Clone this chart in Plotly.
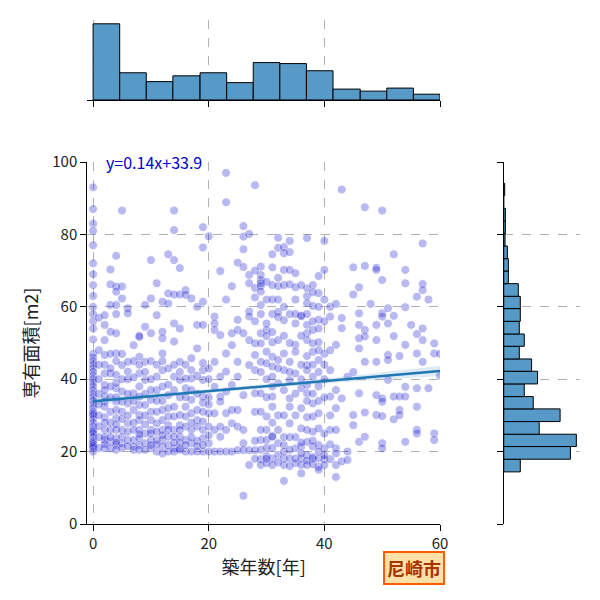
# %% imports
# --------------------
import numpy as np
import plotly.graph_objects as go

# %% data
# --------------------
# building age [years] for every scatter point, one line per age column
age = [
    0, 0, 0, 0, 0, 0, 0, 0, 0, 0, 0, 0, 0, 0, 0, 0, 0, 0, 0, 0, 0, 0, 0,
    0, 0, 0, 0, 0, 0, 0, 0, 0, 0, 0, 0, 0, 0, 0, 0, 0, 0, 0, 0, 0, 0, 0,
    1, 1, 1, 1,
    2, 2, 2, 2, 2, 2, 2, 2, 2, 2, 2, 2, 2,
    3, 3, 3, 3, 3, 3, 3, 3, 3,
    4, 4, 4, 4, 4, 4, 4, 4, 4, 4, 4, 4, 4, 4, 4,
    5, 5, 5, 5, 5, 5, 5, 5, 5,
    6, 6, 6, 6, 6, 6, 6,
    7, 7, 7, 7, 7,
    8, 8, 8, 8, 8, 8, 8, 8, 8, 8, 8,
    9, 9, 9, 9, 9, 9, 9,
    10, 10, 10, 10, 10, 10, 10, 10, 10,
    11, 11, 11, 11, 11, 11, 11, 11,
    12, 12, 12, 12, 12, 12, 12, 12, 12, 12, 12,
    13, 13, 13, 13, 13, 13, 13, 13, 13,
    14, 14, 14, 14, 14, 14, 14, 14, 14, 14, 14, 14,
    15, 15, 15, 15, 15, 15, 15, 15, 15, 15,
    16, 16, 16, 16, 16, 16, 16, 16, 16,
    17, 17, 17, 17, 17, 17, 17, 17,
    18, 18, 18, 18, 18, 18, 18,
    19, 19, 19, 19, 19, 19, 19, 19, 19, 19, 19, 19,
    20, 20, 20, 20, 20, 20, 20,
    21, 21, 21, 21, 21, 21, 21, 21,
    22, 22, 22, 22, 22, 22, 22, 22,
    23, 23, 23, 23, 23, 23, 23, 23, 23,
    24, 24, 24, 24, 24, 24, 24,
    25, 25, 25, 25, 25, 25, 25, 25,
    26, 26, 26, 26, 26, 26, 26, 26, 26, 26,
    27, 27, 27, 27, 27, 27, 27, 27, 27,
    28, 28, 28, 28, 28, 28, 28, 28,
    29, 29, 29, 29, 29, 29, 29, 29, 29, 29, 29, 29, 29, 29,
    30, 30, 30, 30, 30, 30, 30, 30, 30, 30, 30,
    31, 31, 31, 31, 31, 31, 31, 31, 31, 31, 31, 31, 31, 31,
    32, 32, 32, 32, 32, 32, 32, 32, 32, 32,
    33, 33, 33, 33, 33, 33, 33, 33, 33, 33, 33,
    34, 34, 34, 34, 34, 34, 34, 34, 34, 34,
    35, 35, 35, 35, 35, 35, 35, 35, 35,
    36, 36, 36, 36, 36, 36, 36, 36, 36,
    37, 37, 37, 37, 37, 37, 37, 37, 37, 37, 37, 37, 37, 37, 37, 37,
    38, 38, 38, 38, 38, 38, 38, 38, 38, 38, 38, 38,
    39, 39, 39, 39, 39, 39, 39, 39, 39, 39, 39, 39,
    40, 40, 40, 40, 40, 40, 40,
    41, 41, 41, 41, 41, 41,
    42, 42, 42, 42, 42, 42, 42, 42, 42,
    43, 43, 43, 43, 43,
    44, 44, 44,
    45, 45, 45, 45, 45,
    46, 46, 46, 46, 46, 46, 46,
    47, 47, 47, 47, 47, 47, 47,
    48,
    49, 49, 49, 49, 49, 49, 49,
    50, 50, 50, 50, 50, 50, 50, 50, 50,
    51, 51, 51, 51, 51,
    52, 52, 52, 52, 52,
    53, 53, 53, 53,
    54, 54, 54, 54, 54, 54, 54,
    55,
    56, 56, 56, 56, 56, 56, 56,
    57, 57, 57, 57, 57, 57,
    58, 58,
    59, 59, 59, 59,
    60, 60,
]

# floor area [m2], same order as age
area = [
    93, 87, 83, 81, 77, 72, 69, 66, 63, 60, 58, 56, 54, 51, 47, 46, 45, 44, 43, 42, 41, 40, 39,
    38, 37, 36, 35, 34, 33, 32, 31, 30.5, 30, 29, 28, 27, 26, 25.5, 25, 24, 23, 22.5, 22, 21.5, 21, 20,
    57, 48, 36, 27,
    57.7, 55, 50.8, 46.7, 41.6, 38.4, 35.2, 33.8, 32.4, 29.5, 26, 23.2, 20.9,
    70.3, 66.2, 60.5, 53.1, 41.6, 31, 26, 22.7, 20.9,
    74.1, 65.6, 64.2, 60.5, 58, 52.7, 47.1, 41.2, 37.5, 33.8, 31.5, 29.2, 26, 23.7, 21.8,
    86.6, 65.6, 62.3, 43.9, 36.6, 33.8, 26, 24.1, 22.3,
    59.6, 58.2, 44.8, 42.1, 33.3, 27.8, 23.2,
    49.4, 36.1, 31.5, 23.2, 21.4,
    52, 51.7, 46.2, 41.6, 35.2, 32.9, 30.1, 28.7, 26, 23.7, 21.8,
    60.5, 54.5, 44.8, 39.8, 32.9, 25, 22.3,
    72.9, 62.3, 52.7, 34.3, 31, 28.7, 26, 23.2, 20.9,
    66.5, 57.7, 40.7, 37, 31, 27.8, 23.2, 20,
    61.4, 53.1, 51.3, 47.1, 42.5, 31.5, 28.7, 26, 23.2, 21.4, 19.5,
    74.5, 63.7, 60.9, 35.6, 32, 29.7, 27.3, 24.1, 21.8,
    86.6, 81.2, 72.9, 63.4, 55.4, 50.4, 40.7, 32.4, 29.7, 26, 24.1, 20.9,
    70.7, 63.4, 54, 44.8, 39.8, 30.1, 27.3, 24.1, 20.9, 20.5,
    64.6, 63.3, 40.2, 37.5, 32.4, 29.7, 26.9, 23.2, 20,
    62.3, 45.8, 40.2, 34.3, 30.6, 26, 22.3, 20,
    60, 55, 48.5, 31.5, 28.7, 26.9, 20,
    82, 76.4, 61.4, 55, 42.5, 39.8, 35.2, 31, 28.3, 26, 23.7, 20,
    79.5, 40, 35, 30.6, 26.9, 22.3, 20,
    57.3, 55.4, 53.6, 44.8, 37.9, 30.6, 26, 20,
    69.9, 52.2, 40.7, 35.2, 33.8, 26.9, 24.1, 20,
    97, 88.9, 62, 47.1, 42.1, 36.6, 30.6, 26, 20,
    65.7, 52.7, 49.4, 38.4, 31.5, 27.8, 20,
    72.2, 56.4, 53.6, 44.8, 40.7, 31.5, 26.9, 20.4,
    82.3, 79.4, 75.9, 71, 52.7, 35.6, 26, 22.3, 20.4, 7.8,
    80.1, 68.8, 66.5, 58.7, 57.3, 50.8, 43.9, 20.4, 16.3,
    93.6, 65.2, 62.6, 49.9, 46.7, 42.5, 36.1, 20.4,
    71.1, 68.8, 67.4, 66.5, 65.7, 64.2, 60.5, 52.7, 49.9, 44.8, 36.1, 23.2, 17.9, 16.3,
    66.9, 55.4, 53.6, 51.9, 47.6, 44.4, 29.7, 26, 23.2, 18.8, 16.8,
    74.5, 70.9, 66, 58, 50.2, 46.2, 43.5, 40.7, 35.2, 32.4, 24.3, 24.1, 18.1, 16.3,
    79.1, 76.3, 65.7, 58.6, 57.2, 50.8, 45.3, 38.9, 22.3, 19.1,
    76.5, 74.8, 70.2, 66, 56.3, 47.1, 42.5, 21.8, 18.1, 16.3, 11.9,
    78.2, 75.1, 70.2, 66.2, 44.8, 39.8, 34.7, 32.4, 27.8, 18.1,
    69.3, 65.4, 55.4, 49.5, 47.6, 41.6, 20.9, 18.1, 16.8,
    57.6, 57.4, 37.5, 32, 26.4, 21.4, 18.1, 16.3, 14,
    79, 65.1, 62.9, 61, 55, 52.7, 50.8, 46.4, 43.9, 42.5, 38.4, 36.1, 29.5, 22.7, 19.1, 16.3,
    66, 60.2, 53.6, 49.9, 47.6, 40.7, 33.3, 29.7, 25.5, 21.4, 18.5, 18.1,
    68.5, 63.8, 56.4, 50.2, 45.3, 38, 30.6, 26.4, 21.8, 18.1, 15.8, 15,
    78.2, 70.2, 62, 40, 20.9, 17.9, 16.3,
    60, 57.3, 42.5, 35.2, 26, 17.9,
    60.8, 49.5, 37, 32, 26, 20.9, 19.5, 16.3, 13,
    92.4, 56.9, 54.1, 34.7, 17.3,
    40.7, 20, 17.7,
    70.9, 63.4, 42, 30.1, 27.3,
    65.4, 58.2, 55, 51.3, 48.5, 36.1, 22.7,
    87.5, 71.3, 53.6, 51.8, 44.8, 30.8, 24.1,
    60.8,
    70.8, 70.2, 55, 50.8, 44.8, 35.6, 30.1,
    86.6, 67.4, 58.2, 57.3, 34.7, 33.8, 29.8, 22.3, 20.9,
    59.6, 55.4, 46.7, 45.3, 39.8,
    74.5, 57.5, 51.9, 35.2, 28.9,
    46.4, 35.2, 31.5, 30.1,
    70.2, 66.5, 59.9, 49.5, 37.9, 35.2, 22.7,
    55,
    62.8, 52.5, 47.1, 37.5, 32.4, 26, 25,
    77.5, 66.3, 64.6, 54, 50.8, 44.8,
    62, 37.5,
    49.9, 47.1, 25, 23.2,
    47, 41,
]

# extra points inside the two dense clusters (young small flats, 28-41 year blocks)
age_dense = [
    1, 1, 1, 1, 1, 1,
    2, 2, 2, 2, 2,
    3, 3, 3, 3, 3, 3,
    4, 4, 4, 4, 4, 4,
    5, 5, 5, 5, 5,
    6, 6, 6, 6, 6,
    7, 7, 7, 7, 7, 7,
    8, 8, 8, 8,
    9, 9, 9, 9, 9,
    10, 10, 10, 10, 10,
    11, 11, 11, 11,
    12, 12, 12, 12,
    13, 13, 13, 13,
    14, 14, 14, 14,
    15, 15, 15, 15,
    16, 16, 16,
    17, 17, 17, 17,
    18, 18, 18, 18,
    19, 19, 19,
    20, 20, 20,
    28, 28, 28, 28, 28,
    29, 29, 29, 29, 29,
    30, 30, 30, 30, 30,
    31, 31, 31, 31, 31,
    32, 32, 32, 32, 32, 32,
    33, 33, 33, 33, 33, 33,
    34, 34, 34, 34, 34, 34,
    35, 35, 35, 35, 35,
    36, 36, 36, 36, 36, 36,
    37, 37, 37, 37,
    38, 38, 38, 38, 38, 38,
    39, 39, 39, 39, 39, 39,
    40, 40, 40, 40, 40, 40,
    41, 41, 41,
]
area_dense = [
    44, 40, 33, 30, 24, 21,
    44, 37, 28, 24, 22,
    47, 43, 38, 35, 28, 24,
    45, 39, 35, 27.5, 22.5, 20.5,
    47, 40, 31, 29, 21,
    40, 36, 30, 25.5, 21.5,
    45, 40.5, 34, 28, 26, 20.5,
    38, 44, 24.8, 20.5,
    42, 36, 30, 27.5, 20.5,
    45, 40, 37, 25, 21.8,
    44, 34, 25.5, 22,
    45, 38, 34, 24.5,
    43, 38.5, 26, 20,
    44, 37, 22.5, 20,
    42, 35, 26, 22.5,
    44, 35, 21.8,
    42.5, 37, 28, 24,
    41, 36, 23, 21.5,
    44.5, 33.5, 21.8,
    43, 33, 24.5,
    70, 56, 31, 23, 18,
    58, 42, 31, 26, 20.5,
    62, 40, 35, 21, 18,
    62, 53, 38, 28, 21,
    68, 62, 43, 30, 26, 17,
    60, 52, 37, 30, 24, 20,
    58, 50, 42, 24, 20.5, 16,
    62, 58, 36, 30, 24,
    66, 52, 44, 40, 22.5, 19.5,
    58, 34, 26, 17.5,
    64, 56, 44, 36, 23, 16.5,
    60, 54, 48, 42, 34, 20,
    56, 47, 44, 35, 25, 19,
    48, 30, 22,
]

# regression shown in the picture
slope = 0.14
intercept = 33.9
ci_age = [0, 15, 30, 45, 60]
ci_half = [1.0, 0.6, 0.5, 0.8, 1.4]

# marginal histogram of age (top)
top_edges = [0, 4.6, 9.2, 13.8, 18.5, 23.1, 27.7, 32.3, 36.9, 41.5, 46.2, 50.8, 55.4, 60]
top_counts = [224, 80, 54, 71, 80, 51, 110, 107, 86, 32, 26, 35, 17]

# marginal histogram of area (right)
side_edges = [14.4, 17.9, 21.4, 24.8, 28.3, 31.8, 35.2, 38.7, 42.2, 45.6, 49.1, 52.5,
              56.0, 59.5, 62.9, 66.4, 69.9, 73.3, 76.8, 80.3, 83.7, 87.2, 90.7, 94.1]
side_counts = [50, 201, 219, 107, 170, 89, 62, 102, 84, 47, 62, 47,
               50, 50, 44, 14, 14, 11, 4, 5, 5, 0, 3]

x_ticks = [0, 20, 40, 60]
y_ticks = [0, 20, 40, 60, 80, 100]

assert len(age) == len(area)
assert len(age_dense) == len(area_dense)

# %% figure
# --------------------
FONT = "Noto Sans CJK JP"
GRID = "#b0b0b0"
BAR = "#5799c7"

fig = go.Figure()

fig.add_trace(go.Scatter(
    x=age + age_dense, y=area + area_dense, mode="markers",
    marker=dict(color="mediumblue", size=9, opacity=0.27,
                line=dict(color="white", width=1)),
    xaxis="x", yaxis="y", showlegend=False))

ci_x = np.array(ci_age, dtype=float)
fit = slope * ci_x + intercept
fig.add_trace(go.Scatter(
    x=np.concatenate([ci_x, ci_x[::-1]]),
    y=np.concatenate([fit + np.array(ci_half), (fit - np.array(ci_half))[::-1]]),
    fill="toself", fillcolor="rgba(31,119,180,0.15)", line=dict(width=0),
    mode="lines", hoverinfo="skip", showlegend=False))
fig.add_trace(go.Scatter(
    x=ci_x, y=fit, mode="lines", line=dict(color="#1f77b4", width=2.5),
    showlegend=False))

te = np.array(top_edges)
fig.add_trace(go.Bar(
    x=(te[:-1] + te[1:]) / 2, y=top_counts, width=np.diff(te),
    marker=dict(color=BAR, line=dict(color="black", width=1)),
    xaxis="x2", yaxis="y2", showlegend=False))

se = np.array(side_edges)
fig.add_trace(go.Bar(
    y=(se[:-1] + se[1:]) / 2, x=side_counts, width=np.diff(se), orientation="h",
    marker=dict(color=BAR, line=dict(color="black", width=1)),
    xaxis="x3", yaxis="y3", showlegend=False))

axis_common = dict(
    showline=True, linecolor="black", linewidth=1.2,
    ticks="outside", ticklen=6, tickwidth=1.2, tickcolor="black",
    showgrid=True, gridcolor=GRID, griddash="dash", gridwidth=1,
    zeroline=False, tickfont=dict(size=15, color="#222"), automargin=False,
)

# the page adds an 8px body margin, so the domains are set 8px up/left of the target
main_x = [0.1322, 0.72]
main_y = [0.14, 0.7433]

fig.update_layout(
    width=600, height=600,
    margin=dict(l=0, r=0, t=0, b=0, autoexpand=False),
    paper_bgcolor="white", plot_bgcolor="white",
    font=dict(family=FONT, color="#222"),
    xaxis=dict(axis_common, domain=main_x, range=[-1, 60], tickvals=x_ticks,
               anchor="y", title=dict(text="築年数[年]", font=dict(size=18), standoff=9)),
    yaxis=dict(axis_common, domain=main_y, range=[0, 100], tickvals=y_ticks,
               anchor="x", title=dict(text="専有面積[m2]", font=dict(size=18), standoff=8)),
    xaxis2=dict(axis_common, domain=main_x, range=[-1, 60], tickvals=x_ticks,
                anchor="y2", showticklabels=False),
    yaxis2=dict(domain=[0.8467, 0.98], range=[0, max(top_counts) * 1.05], anchor="x2",
                showline=False, showgrid=False, zeroline=False, showticklabels=False,
                automargin=False),
    xaxis3=dict(domain=[0.8262, 0.9533], range=[0, max(side_counts) * 1.05], anchor="y3",
                showline=False, showgrid=False, zeroline=False, showticklabels=False,
                automargin=False),
    yaxis3=dict(axis_common, domain=main_y, range=[0, 100], tickvals=y_ticks,
                anchor="x3", showticklabels=False),
    annotations=[
        dict(text=f"y={slope}x+{intercept}", x=1.9, y=100, xref="x", yref="y",
             xanchor="left", yanchor="middle", showarrow=False,
             font=dict(size=16, color="mediumblue")),
        dict(text="<b>尼崎市</b>", x=0.6767, y=0.0667, xref="paper", yref="paper",
             xanchor="center", yanchor="middle", showarrow=False,
             font=dict(size=18, color="#a83200"),
             bgcolor="#ffe0a6", bordercolor="#ff5c00", borderwidth=2, borderpad=2),
    ],
)

fig.write_html("out.html")
